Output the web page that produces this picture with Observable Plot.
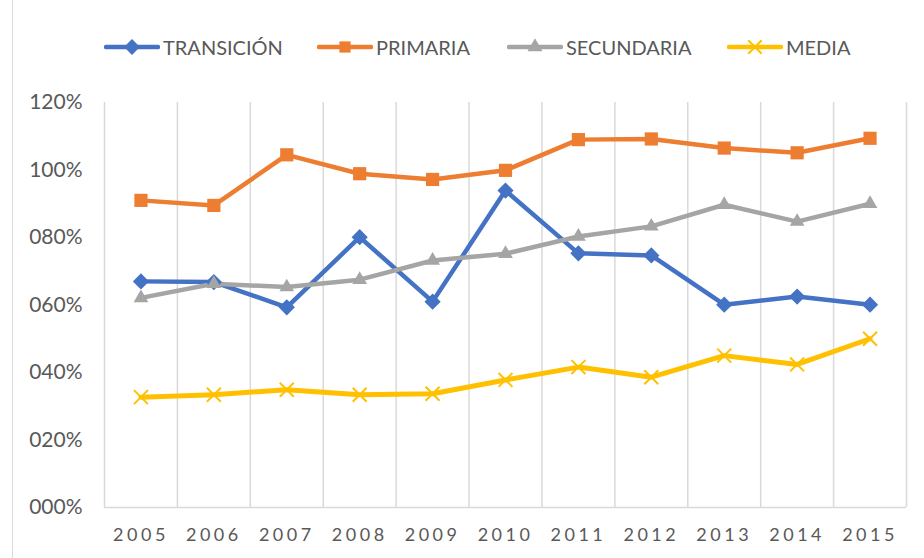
<!DOCTYPE html>
<html>
<head>
<meta charset="utf-8">
<script src="https://cdn.jsdelivr.net/npm/d3@7"></script>
<script src="https://cdn.jsdelivr.net/npm/@observablehq/plot@0.6"></script>
<style>
  body { margin: 0; background: #fff; font-family: Lato, "Open Sans", sans-serif; color: #595959; }
  #wrap { position: relative; width: 924px; height: 558px; overflow: hidden; }
  #frame { position: absolute; left: 12px; top: 0; width: 0; height: 558px; border-left: 1px solid #d9d9d9; }
  #legend { height: 70px; position: relative; }
  .item { position: absolute; top: 35px; height: 24px; display: flex; align-items: center; font-size: 20px; }
  .item svg { margin-right: 3px; }
</style>
</head>
<body>
<div id="wrap">
  <div id="frame"></div>
  <div id="legend"></div>
  <div id="chart"></div>
</div>
<script>
const years = [2005, 2006, 2007, 2008, 2009, 2010, 2011, 2012, 2013, 2014, 2015];
const transicion = [67.0, 66.8, 59.3, 80.1, 61.0, 93.9, 75.3, 74.7, 60.1, 62.5, 60.1];
const primaria   = [91.0, 89.5, 104.5, 98.9, 97.2, 99.9, 109.0, 109.2, 106.5, 105.1, 109.4];
const secundaria = [62.1, 66.3, 65.3, 67.5, 73.2, 75.2, 80.3, 83.3, 89.7, 84.7, 90.0];
const media      = [32.7, 33.4, 34.9, 33.4, 33.7, 37.8, 41.6, 38.6, 45.0, 42.4, 50.0];
const seriesNames = ["TRANSICIÓN", "PRIMARIA", "SECUNDARIA", "MEDIA"];
const seriesColors = ["#4472C4", "#ED7D31", "#A5A5A5", "#FFC000"];
const seriesSymbols = ["diamond2", "square2", "triangle2", "times"];
const yTicks = [0, 20, 40, 60, 80, 100, 120];

const seriesValues = [transicion, primaria, secundaria, media];
const rows = [];
seriesNames.forEach((name, i) => {
  years.forEach((yr, j) => rows.push({serie: name, year: yr, value: seriesValues[i][j], idx: i}));
});
const boundaries = years.map(y => y - 0.5).concat([years[years.length - 1] + 0.5]);

const marks = [
  Plot.ruleX(boundaries, {x: d => d, stroke: "#d9d9d9", strokeWidth: 1.5}),
  Plot.ruleY([0], {stroke: "#d9d9d9", strokeWidth: 1.5})
];
seriesNames.forEach((name, i) => {
  const data = rows.filter(r => r.idx === i);
  marks.push(Plot.line(data, {x: "year", y: "value", stroke: seriesColors[i], strokeWidth: i === 3 ? 5 : 4.5, curve: "linear"}));
});
seriesNames.forEach((name, i) => {
  const data = rows.filter(r => r.idx === i);
  if (seriesSymbols[i] === "times") {
    marks.push(Plot.dot(data, {x: "year", y: "value", symbol: "times", r: 6.4, stroke: seriesColors[i], strokeWidth: 2}));
  } else {
    const r = seriesSymbols[i] === "square2" ? 8.4 : (seriesSymbols[i] === "diamond2" ? 7.3 : 7.0);
    marks.push(Plot.dot(data, {x: "year", y: "value", symbol: seriesSymbols[i], r, fill: seriesColors[i], stroke: "none"}));
  }
});

const chart = Plot.plot({
  width: 924,
  height: 488,
  marginTop: 32,
  marginBottom: 51,
  marginLeft: 104,
  marginRight: 18,
  style: {fontFamily: "Lato, 'Open Sans', sans-serif", fontSize: "18px", color: "#595959", background: "transparent"},
  x: {domain: [years[0] - 0.5, years[years.length - 1] + 0.5], ticks: years, tickFormat: d => String(d), tickSize: 0, tickPadding: 21, label: null},
  y: {domain: [0, 120], ticks: yTicks, tickFormat: d => d3.format("03d")(d) + "%", tickSize: 0, tickPadding: 22, label: null},
  marks
});
d3.select(chart).selectAll("g[aria-label='x-axis tick label'] text, g[aria-label='x-axis'] text")
  .style("letter-spacing", "3.5px");
d3.select(chart).selectAll("g[aria-label='y-axis tick label'], g[aria-label='y-axis']")
  .style("font-size", "21px");
document.getElementById("chart").appendChild(chart);

// legend
const legendX = [104, 317, 507, 727];
const legend = document.getElementById("legend");
seriesNames.forEach((name, i) => {
  const item = document.createElement("div");
  item.className = "item";
  item.style.left = legendX[i] + "px";
  const sym = d3.symbol(d3["symbol" + seriesSymbols[i][0].toUpperCase() + seriesSymbols[i].slice(1)], seriesSymbols[i] === "times" ? 120 : 160)();
  const filled = seriesSymbols[i] !== "times";
  item.innerHTML = `<svg width="56" height="24"><line x1="2" x2="54" y1="12" y2="12" stroke="${seriesColors[i]}" stroke-width="4.5" stroke-linecap="round"/><path transform="translate(28,12)" d="${sym}" fill="${filled ? seriesColors[i] : "none"}" stroke="${filled ? "none" : seriesColors[i]}" stroke-width="2"/></svg><span>${name}</span>`;
  legend.appendChild(item);
});
</script>
</body>
</html>
